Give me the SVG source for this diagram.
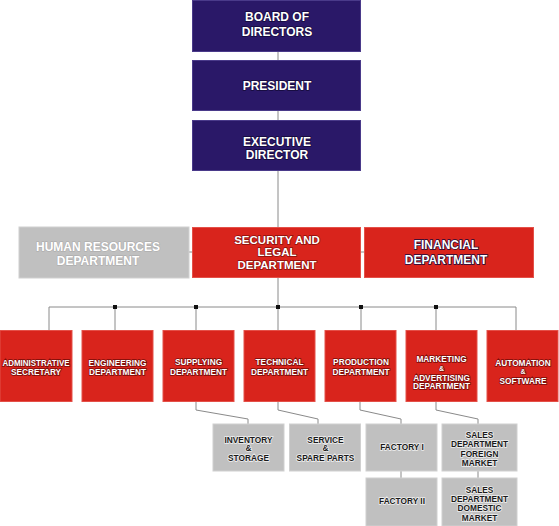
<svg xmlns="http://www.w3.org/2000/svg" width="559" height="526" viewBox="0 0 559 526">
<style>
text{font-family:"Liberation Sans",Arial,sans-serif;font-weight:bold;text-anchor:middle;paint-order:stroke}
.navy{fill:#2a1868;stroke:#4a3a8a;stroke-width:1}
.red{fill:#d9241c;stroke:#e45048;stroke-width:1}
.gray{fill:#c0c0c0;stroke:#d0d0d0;stroke-width:1}
.tn{fill:#fff;font-size:12px;stroke:#140a3a;stroke-width:1.4}
.tr{fill:#fff;font-size:11.5px;stroke:#8a100b;stroke-width:1.4}
.th{fill:#fff;font-size:12px;stroke:#a8a8a8;stroke-width:1}
.ts{fill:#fff;font-size:8.3px;stroke:#7a0c08;stroke-width:1.5}
.amp{font-size:7px}
.tg{fill:#1a1a1a;font-size:8.3px;stroke:#f0f0f0;stroke-width:1.4}
.conn{fill:none;stroke:#8a8a8a;stroke-width:1}
.dot{fill:#111}
</style>
<g id="connectors">
<path class="conn" d="M278,51 V307"/>
<path class="conn" d="M189,252 H192 M361,252 H364"/>
<path class="conn" d="M49,330 V307 H516 V330"/>
<path class="conn" d="M115,307 V330 M196,307 V330 M278,307 V330 M361,307 V330 M436,307 V330"/>
<path class="conn" d="M196,402 V410 L248,419 V424"/>
<path class="conn" d="M278,402 V410 L318,419 V424"/>
<path class="conn" d="M360,402 V410 L401,419 V424"/>
<path class="conn" d="M436,402 V410 L478,419 V424"/>
<path class="conn" d="M401,471 V478 M478,471 V478"/>
<rect class="dot" x="113" y="305" width="4" height="4"/>
<rect class="dot" x="194" y="305" width="4" height="4"/>
<rect class="dot" x="276" y="305" width="4" height="4"/>
<rect class="dot" x="359" y="305" width="4" height="4"/>
<rect class="dot" x="434" y="305" width="4" height="4"/>
</g>
<g id="board"><rect class="navy" x="192.5" y="0.5" width="168" height="51"/><text class="tn" x="277" y="21">BOARD OF</text><text class="tn" x="277" y="35.5">DIRECTORS</text></g>
<g id="president"><rect class="navy" x="192.5" y="60.5" width="168" height="50"/><text class="tn" x="277" y="89.5">PRESIDENT</text></g>
<g id="executive"><rect class="navy" x="192.5" y="120.5" width="168" height="50"/><text class="tn" x="277" y="145.5">EXECUTIVE</text><text class="tn" x="277" y="159">DIRECTOR</text></g>
<g id="hr"><rect class="gray" x="19" y="227" width="170" height="51"/><text class="th" x="98" y="251">HUMAN RESOURCES</text><text class="th" x="98" y="265">DEPARTMENT</text></g>
<g id="security"><rect class="red" x="192.5" y="227.5" width="168" height="50"/><text class="tr" x="277" y="243.5">SECURITY AND</text><text class="tr" x="277" y="256">LEGAL</text><text class="tr" x="277" y="269">DEPARTMENT</text></g>
<g id="financial"><rect class="red" x="364.5" y="227.5" width="169" height="50"/><text class="tn" x="446" y="249">FINANCIAL</text><text class="tn" x="446" y="263.5">DEPARTMENT</text></g>
<g id="admin"><rect class="red" x="0" y="330.5" width="72" height="71"/><text class="ts" x="36" y="366" textLength="67" lengthAdjust="spacingAndGlyphs">ADMINISTRATIVE</text><text class="ts" x="36" y="375">SECRETARY</text></g>
<g id="engineering"><rect class="red" x="82" y="330.5" width="71" height="71"/><text class="ts" x="117.5" y="365.5">ENGINEERING</text><text class="ts" x="117.5" y="375">DEPARTMENT</text></g>
<g id="supplying"><rect class="red" x="163" y="330.5" width="71" height="71"/><text class="ts" x="198.5" y="365">SUPPLYING</text><text class="ts" x="198.5" y="375">DEPARTMENT</text></g>
<g id="technical"><rect class="red" x="244" y="330.5" width="71" height="71"/><text class="ts" x="279.5" y="365">TECHNICAL</text><text class="ts" x="279.5" y="375">DEPARTMENT</text></g>
<g id="production"><rect class="red" x="325" y="330.5" width="71" height="71"/><text class="ts" x="361" y="365.3">PRODUCTION</text><text class="ts" x="361" y="375">DEPARTMENT</text></g>
<g id="marketing"><rect class="red" x="406" y="330.5" width="71" height="71"/><text class="ts" x="441.5" y="362.3">MARKETING</text><text class="ts amp" x="441.5" y="371">&amp;</text><text class="ts" x="441.5" y="380.6">ADVERTISING</text><text class="ts" x="441.5" y="389.2">DEPARTMENT</text></g>
<g id="automation"><rect class="red" x="487" y="330.5" width="71" height="71"/><text class="ts" x="523" y="365.5">AUTOMATION</text><text class="ts amp" x="523" y="373.5">&amp;</text><text class="ts" x="523" y="383.5">SOFTWARE</text></g>
<g id="inventory"><rect class="gray" x="213" y="424" width="71" height="47"/><text class="tg" x="248.5" y="442.5">INVENTORY</text><text class="tg amp" x="248.5" y="451">&amp;</text><text class="tg" x="248.5" y="460.5">STORAGE</text></g>
<g id="service"><rect class="gray" x="289.5" y="424" width="71" height="47"/><text class="tg" x="325.5" y="442.5">SERVICE</text><text class="tg amp" x="325.5" y="451">&amp;</text><text class="tg" x="325.5" y="460.5">SPARE PARTS</text></g>
<g id="factory1"><rect class="gray" x="366" y="424" width="71" height="47"/><text class="tg" x="402" y="449.5">FACTORY I</text></g>
<g id="factory2"><rect class="gray" x="366" y="478" width="71" height="48"/><text class="tg" x="402" y="504">FACTORY II</text></g>
<g id="salesforeign"><rect class="gray" x="442" y="424" width="75" height="47"/><text class="tg" x="479.5" y="438.3">SALES</text><text class="tg" x="479.5" y="447.3">DEPARTMENT</text><text class="tg" x="479.5" y="456.5">FOREIGN</text><text class="tg" x="479.5" y="465.7">MARKET</text></g>
<g id="salesdomestic"><rect class="gray" x="442" y="478" width="75" height="48"/><text class="tg" x="479.5" y="493">SALES</text><text class="tg" x="479.5" y="502">DEPARTMENT</text><text class="tg" x="479.5" y="511">DOMESTIC</text><text class="tg" x="479.5" y="520.5">MARKET</text></g>
</svg>
